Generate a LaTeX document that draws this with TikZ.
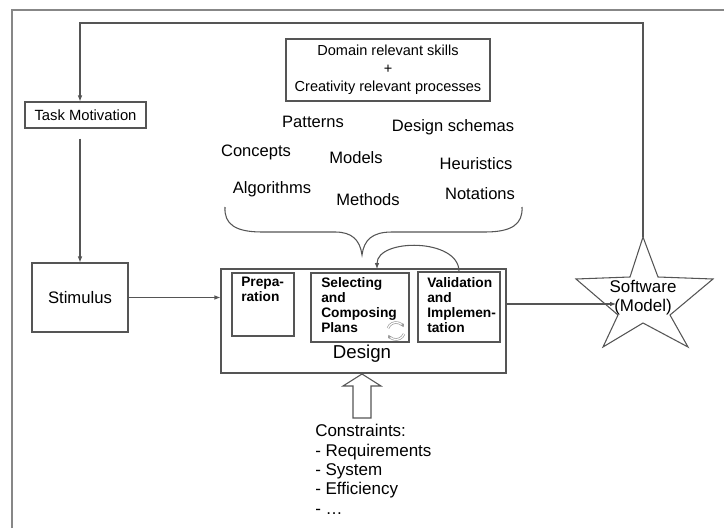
\documentclass[tikz,border=0pt]{standalone}
\usepackage{fontspec}
\setmainfont{Liberation Sans}
\usetikzlibrary{arrows.meta}
\definecolor{linegray}{RGB}{85,85,85}
\definecolor{framegray}{RGB}{135,135,135}
\begin{document}
\begin{tikzpicture}[x=0.75pt,y=0.75pt,yscale=-1,xscale=1,
  box/.style={draw=linegray, line width=0.8pt, inner sep=0pt},
  arr/.style={draw=linegray, line width=0.8pt, -{Latex[length=4.5pt,width=3.5pt]}},
  word/.style={inner sep=0pt, font=\fontsize{12.4}{15}\selectfont},
  stepname/.style={inner sep=0pt, anchor=north west, align=left, font=\bfseries\fontsize{10.3}{11.4}\selectfont},
  cycle/.style={draw=gray!80, line width=0.5pt, double=white, double distance=0.9pt}
]
\useasboundingbox (0,0) rectangle (724,528);

%Frame
\draw [color=framegray, line width=1.1pt] (12,528) -- (12,10) -- (724,10);

% Task Motivation
\node [box, minimum width=90.75pt, minimum height=19.5pt, font=\fontsize{11.1}{13}\selectfont] (task) at (85.5,115) {Task Motivation};
% Stimulus
\node [box, minimum width=72pt, minimum height=51.75pt, font=\fontsize{12.5}{15}\selectfont] (stim) at (80,297.5) {Stimulus};
% Skills box
\node [box, minimum width=153pt, minimum height=46.5pt, align=center, font=\fontsize{10.9}{13.5}\selectfont] (skills) at (388,70) {Domain relevant skills\\+\\Creativity relevant processes};

% Text Node
\node [word] (patterns) at (313,122) {Patterns};
\node [word] (schemas) at (453,127) {Design schemas};
\node [word] (concepts) at (256,152) {Concepts};
\node [word] (models) at (356,158) {Models};
\node [word] (heuristics) at (476,164) {Heuristics};
\node [word] (algorithms) at (272,189) {Algorithms};
\node [word] (methods) at (368,200) {Methods};
\node [word] (notations) at (480,194) {Notations};

%Brace
\draw [color=linegray, line width=0.8pt] (225,207) .. controls (224,224) and (235,232) .. (262,232) -- (335,232) .. controls (352,232) and (360,240) .. (362,255) .. controls (364,240) and (372,232) .. (392,232) -- (485,232) .. controls (512,232) and (523,224) .. (522,207);

% Design
\node [box, minimum width=213.75pt, minimum height=78pt] (design) at (363.5,321) {};
\node [inner sep=0pt, font=\fontsize{14}{16}\selectfont] (designlbl) at (362,354) {Design};
\node [box, minimum width=46.5pt, minimum height=47.25pt] (prep) at (263,304.5) {};
\node [stepname] (preptext) at (241,277) {Prepa-\\ration};
\node [box, minimum width=73.5pt, minimum height=51.75pt] (select) at (360,307.5) {};
\node [stepname] (selecttext) at (321,277) {Selecting\\and\\Composing\\Plans};
\node [box, minimum width=61.5pt, minimum height=52.5pt] (valid) at (459,307) {};
\node [stepname] (validtext) at (427,277) {Validation\\and\\Implemen-\\tation};

%Cycle icon
\draw [cycle, -{Latex[length=2.5pt,width=3pt]}] (396,331) ++(200:8.5) arc (200:335:8.5);
\draw [cycle, -{Latex[length=2.5pt,width=3pt]}] (396,331) ++(20:8.5) arc (20:155:8.5);

% Software star
\draw [color=linegray, line width=0.8pt] (643,237) -- (630,277) -- (576,279) -- (618,315) -- (603,347) -- (643,323) -- (688,347) -- (670,315) -- (713,279) -- (658,277) -- cycle;
\coordinate (startop) at (643,237);
\coordinate (startip) at (616,304);
\node [inner sep=0pt, align=center, font=\fontsize{12.7}{14.25}\selectfont] (software) at (643,298) {Software\\(Model)};

% Constraints
\draw [color=linegray, line width=0.8pt] (362,374) -- (381,386) -- (371,386) -- (371,418) -- (353,418) -- (353,386) -- (343,386) -- cycle;
\node [anchor=north west, inner sep=0pt, align=left, font=\fontsize{12.75}{14.6}\selectfont] (constraints) at (315,424) {Constraints:\\- Requirements\\- System\\- Efficiency\\- \dots};

%Connectors
\coordinate (looptip) at (377,269);
\draw [arr] (startop) -- (startop |- 0,23) -| (task.north -| stim.north);
\draw [arr, shorten <=7.5pt] (task.south -| stim.north) -- (stim.north);
\draw [arr] (stim.east) -- (stim.east -| design.west);
\draw [arr] (design.east |- startip) -- (startip);
\draw [arr] (valid.north) .. controls (459,238) and (377,238) .. (looptip);
\end{tikzpicture}
\end{document}
